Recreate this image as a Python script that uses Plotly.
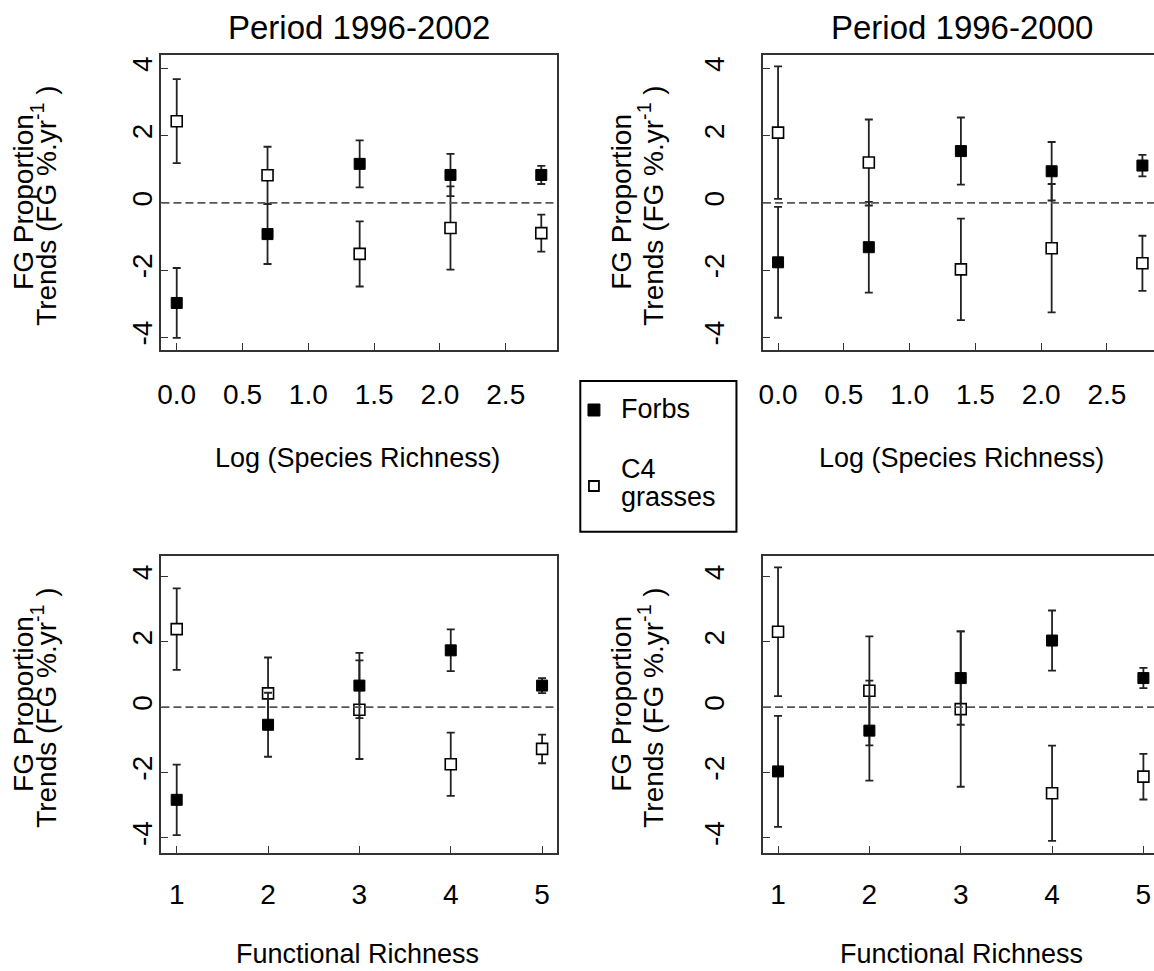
import plotly.graph_objects as go

# ---------------- data ----------------
log_richness = [0.0, 0.69, 1.39, 2.08, 2.77]
func_richness = [1, 2, 3, 4, 5]

x_ticks_log = [0.0, 0.5, 1.0, 1.5, 2.0, 2.5]
x_ticktext_log = ["0.0", "0.5", "1.0", "1.5", "2.0", "2.5"]
x_ticks_func = [1, 2, 3, 4, 5]
x_ticktext_func = ["1", "2", "3", "4", "5"]
y_ticks = [-4, -2, 0, 2, 4]
y_ticktext = ["-4", "-2", "0", "2", "4"]

# Period 1996-2002, species richness
tl_forbs = [-2.98, -0.93, 1.16, 0.83, 0.83]
tl_forbs_err = [1.04, 0.89, 0.70, 0.63, 0.27]
tl_c4 = [2.43, 0.82, -1.52, -0.75, -0.90]
tl_c4_err = [1.25, 0.85, 0.97, 1.24, 0.55]
# Period 1996-2000, species richness
tr_forbs = [-1.77, -1.32, 1.54, 0.94, 1.11]
tr_forbs_err = [1.65, 1.35, 1.00, 0.87, 0.32]
tr_c4 = [2.09, 1.20, -1.98, -1.35, -1.80]
tr_c4_err = [1.97, 1.28, 1.51, 1.91, 0.82]
# Period 1996-2002, functional richness
bl_forbs = [-2.84, -0.54, 0.66, 1.74, 0.66]
bl_forbs_err = [1.08, 0.98, 1.00, 0.64, 0.23]
bl_c4 = [2.39, 0.42, -0.08, -1.75, -1.28]
bl_c4_err = [1.25, 1.10, 1.51, 0.97, 0.44]
# Period 1996-2000, functional richness
br_forbs = [-1.97, -0.72, 0.89, 2.04, 0.89]
br_forbs_err = [1.70, 1.53, 1.43, 0.92, 0.31]
br_c4 = [2.31, 0.50, -0.06, -2.64, -2.13]
br_c4_err = [1.97, 1.67, 2.38, 1.46, 0.70]

titles = ["Period 1996-2002", "Period 1996-2000"]
xlabels = ["Log (Species Richness)", "Functional Richness"]
ylabel1 = "FG Proportion"
ylabel2 = "Trends (FG %.yr<sup>-1</sup> )"
legend_lines = ["Forbs", "C4", "grasses"]

# ---------------- layout helpers ----------------
W, H = 1154, 971
FONT = "Liberation Sans, Arial, Helvetica, sans-serif"
LINE = "#333333"


def fx(p):
    return p / W


def fy(p):
    return 1 - p / H


panels = [
    dict(n=1, x=log_richness, f=tl_forbs, fe=tl_forbs_err, c=tl_c4, ce=tl_c4_err,
         xd=[fx(158), fx(555)], yd=[fy(350), fy(55)], xr=[-0.116, 2.89], yr=[-4.38, 4.40],
         tv=x_ticks_log, tt=x_ticktext_log, right=False, ystand=-4, xstand=19),
    dict(n=2, x=log_richness, f=tr_forbs, fe=tr_forbs_err, c=tr_c4, ce=tr_c4_err,
         xd=[fx(761.7), 1.0], yd=[fy(350), fy(55)], xr=[-0.114, 2.858], yr=[-4.38, 4.40],
         tv=x_ticks_log, tt=x_ticktext_log, right=True, ystand=26, xstand=19),
    dict(n=3, x=func_richness, f=bl_forbs, fe=bl_forbs_err, c=bl_c4, ce=bl_c4_err,
         xd=[fx(158), fx(555)], yd=[fy(852.7), fy(556)], xr=[0.833, 5.164], yr=[-4.46, 4.63],
         tv=x_ticks_func, tt=x_ticktext_func, right=False, ystand=-4, xstand=16),
    dict(n=4, x=func_richness, f=br_forbs, fe=br_forbs_err, c=br_c4, ce=br_c4_err,
         xd=[fx(761.7), 1.0], yd=[fy(852.7), fy(556)], xr=[0.836, 5.116], yr=[-4.46, 4.63],
         tv=x_ticks_func, tt=x_ticktext_func, right=True, ystand=26, xstand=16),
]

fig = go.Figure()
layout = {}
shapes = []

for p in panels:
    n = p["n"]
    xa = "x" if n == 1 else f"x{n}"
    ya = "y" if n == 1 else f"y{n}"
    xkey = "xaxis" if n == 1 else f"xaxis{n}"
    ykey = "yaxis" if n == 1 else f"yaxis{n}"

    err_f = dict(type="data", array=p["fe"], visible=True, color="#222222", thickness=1.8, width=4)
    err_c = dict(type="data", array=p["ce"], visible=True, color="#222222", thickness=1.8, width=4)

    fig.add_trace(go.Scatter(
        x=p["x"], y=p["c"], mode="markers", error_y=err_c, xaxis=xa, yaxis=ya, cliponaxis=False,
        marker=dict(symbol="square", size=11, color="white", line=dict(color="black", width=1.6)),
        showlegend=False, name="C4 grasses"))
    fig.add_trace(go.Scatter(
        x=p["x"], y=p["f"], mode="markers", error_y=err_f, xaxis=xa, yaxis=ya, cliponaxis=False,
        marker=dict(symbol="square", size=11, color="black", line=dict(color="black", width=1)),
        showlegend=False, name="Forbs"))

    layout[xkey] = dict(
        domain=p["xd"], range=p["xr"], anchor=ya, showline=True, linecolor=LINE, linewidth=1.6,
        mirror=True, ticks="inside", ticklen=7, tickwidth=1.3, tickcolor=LINE,
        tickmode="array", tickvals=p["tv"], ticktext=p["tt"], showgrid=False, zeroline=False,
        tickfont=dict(family=FONT, size=28, color="black"), ticklabelstandoff=p["xstand"])
    layout[ykey] = dict(
        domain=p["yd"], range=p["yr"], anchor=xa, showline=True, linecolor=LINE, linewidth=1.6,
        mirror=(not p["right"]), ticks="inside", ticklen=7, tickwidth=1.3, tickcolor=LINE,
        tickmode="array", tickvals=y_ticks, ticktext=y_ticktext, showgrid=False, zeroline=False,
        tickangle=-90, tickfont=dict(family=FONT, size=28, color="black"),
        ticklabelstandoff=p["ystand"])

    shapes.append(dict(type="line", xref=f"{xa} domain", yref=ya, x0=0, x1=1, y0=0, y1=0,
                       line=dict(color="#555555", width=1.6, dash="8px,4px")))

# manual legend box and keys
shapes.append(dict(type="rect", xref="paper", yref="paper",
                   x0=fx(578.3), x1=fx(735), y0=fy(531.7), y1=fy(381),
                   line=dict(color="black", width=2), fillcolor="white", layer="above"))
shapes.append(dict(type="rect", xref="paper", yref="paper",
                   x0=fx(586), x1=fx(598), y0=fy(416), y1=fy(404),
                   line=dict(color="black", width=1), fillcolor="black", layer="above"))
shapes.append(dict(type="rect", xref="paper", yref="paper",
                   x0=fx(587), x1=fx(597), y0=fy(491), y1=fy(481),
                   line=dict(color="black", width=1.8), fillcolor="white", layer="above"))

annotations = []
for txt, cy in zip(legend_lines, [409, 469, 497]):
    annotations.append(dict(text=txt, x=fx(617), y=fy(cy), xref="paper", yref="paper",
                            xanchor="left", yanchor="middle", showarrow=False,
                            font=dict(family=FONT, size=27, color="black")))
# titles
for cx, t in zip([356, 961], titles):
    annotations.append(dict(text=t, x=fx(cx), y=fy(27), xref="paper", yref="paper",
                            xanchor="center", yanchor="middle", showarrow=False,
                            font=dict(family=FONT, size=33, color="black")))
# x labels
for cx in [355, 961]:
    annotations.append(dict(text=xlabels[0], x=fx(cx), y=fy(458), xref="paper", yref="paper",
                            xanchor="center", yanchor="middle", showarrow=False,
                            font=dict(family=FONT, size=27, color="black")))
    annotations.append(dict(text=xlabels[1], x=fx(cx), y=fy(954), xref="paper", yref="paper",
                            xanchor="center", yanchor="middle", showarrow=False,
                            font=dict(family=FONT, size=27, color="black")))
# y labels
for (x1, x2) in [(19, 40), (619, 649)]:
    for cy in [202, 704]:
        annotations.append(dict(text=ylabel1, x=fx(x1), y=fy(cy), xref="paper", yref="paper",
                                xanchor="center", yanchor="middle", showarrow=False, textangle=-90,
                                font=dict(family=FONT, size=28, color="black")))
        annotations.append(dict(text=ylabel2, x=fx(x2), y=fy(cy + 4), xref="paper", yref="paper",
                                xanchor="center", yanchor="middle", showarrow=False, textangle=-90,
                                font=dict(family=FONT, size=28, color="black")))

fig.update_layout(
    width=W, height=H, autosize=False,
    margin=dict(l=0, r=0, t=0, b=0),
    paper_bgcolor="white", plot_bgcolor="white",
    shapes=shapes, annotations=annotations,
    showlegend=False,
    **layout,
)

fig.write_html("out.html", config={"displayModeBar": False},
               post_script="document.body.style.margin='0px';document.body.style.overflow='hidden';")
